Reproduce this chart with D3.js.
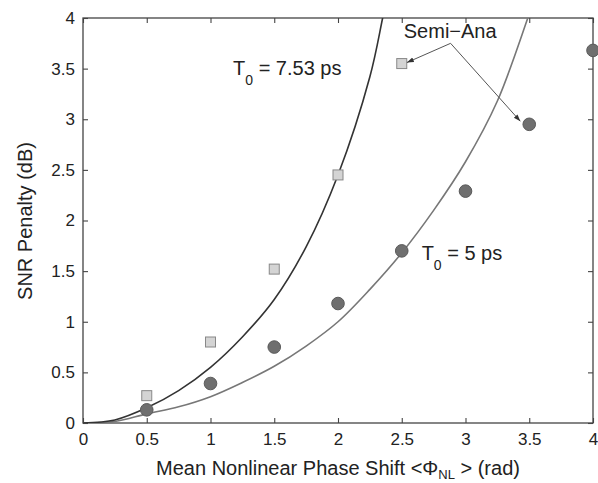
<!DOCTYPE html>
<html>
<head>
<meta charset="utf-8">
<script src="https://cdn.jsdelivr.net/npm/d3@7"></script>
<style>
  body { margin: 0; background: #fff; }
  text { font-family: "Liberation Sans", Arial, sans-serif; fill: #222; }
</style>
</head>
<body>
<div id="chart"></div>
<script>
const phiX = [0.5, 1, 1.5, 2, 2.5, 3, 3.5, 4];
const semiAna753 = [0.27, 0.80, 1.52, 2.45, 3.55];
const semiAna5 = [0.13, 0.39, 0.75, 1.18, 1.70, 2.29, 2.95, 3.68];

// analytic curves
const curve753X = [0, 0.25, 0.5, 0.75, 1, 1.25, 1.5, 1.75, 2, 2.25, 2.35, 2.42];
const curve753Y = [0, 0.03, 0.15, 0.32, 0.55, 0.85, 1.22, 1.74, 2.45, 3.42, 4.0, 4.45];
const curve5X = [0, 0.25, 0.5, 0.75, 1, 1.25, 1.5, 1.75, 2, 2.25, 2.5, 2.75, 3, 3.25, 3.5, 3.56];
const curve5Y = [0, 0.015, 0.09, 0.16, 0.26, 0.40, 0.56, 0.76, 1.0, 1.32, 1.68, 2.1, 2.58, 3.18, 4.04, 4.25];

const xTicks = [0, 0.5, 1, 1.5, 2, 2.5, 3, 3.5, 4];
const yTicks = [0, 0.5, 1, 1.5, 2, 2.5, 3, 3.5, 4];

const width = 598, height = 483;
const margin = { top: 18, right: 5, bottom: 60, left: 83 };
const w = width - margin.left - margin.right;
const h = height - margin.top - margin.bottom;

const svg = d3.select("#chart").append("svg")
  .attr("width", width)
  .attr("height", height);

const x = d3.scaleLinear().domain([0, 4]).range([0, w]);
const y = d3.scaleLinear().domain([0, 4]).range([h, 0]);

const g = svg.append("g").attr("transform", `translate(${margin.left},${margin.top})`);

svg.append("defs").append("clipPath").attr("id", "clip")
  .append("rect").attr("width", w).attr("height", h);

svg.select("defs").append("marker")
  .attr("id", "arrow")
  .attr("viewBox", "0 0 10 10")
  .attr("refX", 10).attr("refY", 5)
  .attr("markerWidth", 7).attr("markerHeight", 7)
  .attr("orient", "auto")
  .append("path").attr("d", "M0,1.5 L10,5 L0,8.5 Z").attr("fill", "#333");

// axes, ticks pointing inward on all four sides
const axisStyle = (sel) => {
  sel.select(".domain").remove();
  sel.selectAll(".tick line").attr("stroke", "#444").attr("stroke-width", 1.1);
  sel.selectAll(".tick text")
    .style("font-family", '"Liberation Sans", Arial, sans-serif')
    .style("font-size", "17px").attr("fill", "#222");
};

g.append("g").attr("transform", `translate(0,${h})`)
  .call(d3.axisBottom(x).tickValues(xTicks).tickSizeInner(-5).tickSizeOuter(0).tickPadding(10)
    .tickFormat(d3.format("~g")))
  .call(axisStyle);
g.append("g")
  .call(d3.axisTop(x).tickValues(xTicks).tickSizeInner(-5).tickSizeOuter(0).tickFormat(""))
  .call(axisStyle);
g.append("g")
  .call(d3.axisLeft(y).tickValues(yTicks).tickSizeInner(-5).tickSizeOuter(0).tickPadding(8)
    .tickFormat(d3.format("~g")))
  .call(axisStyle);
g.append("g").attr("transform", `translate(${w},0)`)
  .call(d3.axisRight(y).tickValues(yTicks).tickSizeInner(-5).tickSizeOuter(0).tickFormat(""))
  .call(axisStyle);

g.append("rect")
  .attr("width", w).attr("height", h)
  .attr("fill", "none").attr("stroke", "#444").attr("stroke-width", 1.3);

// curves
const line = d3.line().x((d) => x(d[0])).y((d) => y(d[1])).curve(d3.curveCatmullRom);
const plot = g.append("g").attr("clip-path", "url(#clip)");

plot.append("path")
  .datum(d3.zip(curve5X, curve5Y))
  .attr("d", line).attr("fill", "none").attr("stroke", "#777").attr("stroke-width", 1.6);
plot.append("path")
  .datum(d3.zip(curve753X, curve753Y))
  .attr("d", line).attr("fill", "none").attr("stroke", "#333").attr("stroke-width", 1.6);

// markers
g.selectAll(".sq")
  .data(d3.zip(phiX.slice(0, semiAna753.length), semiAna753))
  .enter().append("rect")
  .attr("class", "sq")
  .attr("x", (d) => x(d[0]) - 5).attr("y", (d) => y(d[1]) - 5)
  .attr("width", 10).attr("height", 10)
  .attr("fill", "#d4d4d4").attr("stroke", "#888").attr("stroke-width", 1);

g.selectAll(".dot")
  .data(d3.zip(phiX, semiAna5))
  .enter().append("circle")
  .attr("class", "dot")
  .attr("cx", (d) => x(d[0])).attr("cy", (d) => y(d[1]))
  .attr("r", 6.3)
  .attr("fill", "#6f6f6f").attr("stroke", "#5a5a5a").attr("stroke-width", 1);

// annotations
function tLabel(px, py, val) {
  const t = g.append("text").attr("x", x(px)).attr("y", y(py)).style("font-size", "20px");
  t.append("tspan").text("T");
  t.append("tspan").attr("dy", 10).style("font-size", "14px").text("0");
  t.append("tspan").attr("dy", -10).text(" = " + val + " ps");
}
tLabel(1.177, 3.44, "7.53");
tLabel(2.656, 1.61, "5");

g.append("text")
  .attr("x", x(2.516)).attr("y", y(3.80))
  .style("font-size", "20px")
  .text("Semi\u2212Ana");

const hub = [2.883, 3.75];
[[2.54, 3.56], [3.43, 2.98]].forEach((p) => {
  g.append("line")
    .attr("x1", x(hub[0])).attr("y1", y(hub[1]))
    .attr("x2", x(p[0])).attr("y2", y(p[1]))
    .attr("stroke", "#555").attr("stroke-width", 1)
    .attr("marker-end", "url(#arrow)");
});

// axis titles
const xt = svg.append("text")
  .attr("x", margin.left + w / 2).attr("y", 475)
  .attr("text-anchor", "middle")
  .style("font-size", "20px");
xt.append("tspan").text("Mean Nonlinear Phase Shift <\u03A6");
xt.append("tspan").attr("dy", 4).style("font-size", "13px").text("NL");
xt.append("tspan").attr("dy", -4).text(" > (rad)");

svg.append("text")
  .attr("transform", "translate(32,221) rotate(-90)")
  .attr("text-anchor", "middle")
  .style("font-size", "20px")
  .text("SNR Penalty (dB)");
</script>
</body>
</html>
